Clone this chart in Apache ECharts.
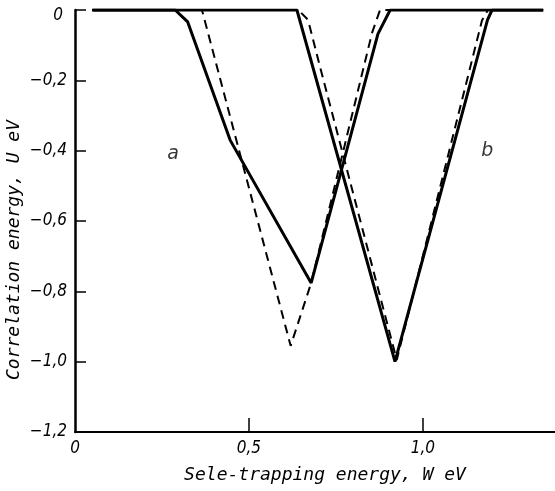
<!DOCTYPE html>
<html>
<head>
<meta charset="utf-8">
<script src="https://cdn.jsdelivr.net/npm/echarts@6/dist/echarts.min.js"></script>
<style>
  html, body { margin: 0; padding: 0; background: #fff; }
  #chart { width: 555px; height: 491px; }
</style>
</head>
<body>
<div id="chart"></div>
<script>
  // W (eV), U (eV)
  const solidA = [[0.05, 0], [0.288, 0], [0.324, -0.034], [0.446, -0.37], [0.679, -0.776], [0.871, -0.068], [0.906, 0], [1.346, 0]]
  const solidB = [[0.05, 0], [0.638, 0], [0.92, -1.0], [1.186, -0.028], [1.199, 0], [1.346, 0]]
  const dashedA = [[0.05, 0], [0.365, 0], [0.62, -0.955], [0.679, -0.776], [0.854, -0.065], [0.877, 0], [1.346, 0]]
  const dashedB = [[0.05, 0], [0.642, 0], [0.67, -0.028], [0.704, -0.16], [0.925, -0.995], [1.17, -0.03], [1.187, 0], [1.346, 0]]
  const curveLabels = [[0.282, -0.41, 'a'], [1.185, -0.4, 'b']]
  const xTicks = [0.5, 1.0]
  const xLabels = [0, 0.5, 1.0]

  const tickFont = {
    color: '#000',
    fontSize: 17,
    fontStyle: 'italic',
    fontFamily: "'Liberation Sans Narrow', 'DejaVu Sans Condensed', sans-serif"
  }
  const titleFont = {
    color: '#000',
    fontSize: 18,
    fontStyle: 'italic',
    fontFamily: "'DejaVu Sans Mono', monospace"
  }
  // 0.5 -> 0,5 ; -0.2 -> −0,2
  const fmt = v => {
    const r = Math.round(v * 10) / 10
    if (r === 0) return '0'
    return (r < 0 ? '\u2212' : '') + Math.abs(r).toFixed(1).replace('.', ',')
  }

  const line = (data, dashed) => ({
    type: 'line',
    data: data,
    symbol: 'none',
    lineStyle: {
      color: '#000',
      width: dashed ? 2 : 3,
      type: dashed ? [9, 6] : 'solid'
    },
    z: dashed ? 2 : 3
  })

  const chart = echarts.init(document.getElementById('chart'))
  chart.setOption({
    animation: false,
    backgroundColor: '#fff',
    grid: { left: 75, right: 0, top: 10, bottom: 59, containLabel: false, outerBoundsMode: 'none' },
    xAxis: {
      type: 'value',
      min: 0,
      max: 1.38,
      name: 'Sele-trapping energy, W eV',
      nameLocation: 'middle',
      nameGap: 34,
      nameTextStyle: Object.assign({ padding: [0, 0, 0, 20] }, titleFont),
      axisLine: { onZero: false, lineStyle: { color: '#000', width: 2 } },
      axisTick: { inside: true, length: 14, customValues: xTicks, lineStyle: { color: '#000', width: 1.5 } },
      axisLabel: Object.assign({ customValues: xLabels, formatter: fmt, margin: 8 }, tickFont),
      splitLine: { show: false }
    },
    yAxis: {
      type: 'value',
      min: -1.2,
      max: 0,
      interval: 0.2,
      name: 'Correlation energy, U eV',
      nameLocation: 'middle',
      nameRotate: 90,
      nameGap: 52,
      nameMoveOverlap: false,
      nameTextStyle: Object.assign({ padding: [0, 58, 0, 0] }, titleFont),
      axisLine: { onZero: false, lineStyle: { color: '#000', width: 2.5 } },
      axisTick: { inside: true, length: 11, lineStyle: { color: '#000', width: 1.5 } },
      axisLabel: Object.assign({
        margin: 8,
        // the top label sits a little below its tick in the original
        formatter: v => (Math.abs(v) < 1e-9 ? '{top|0}' : fmt(v)),
        rich: { top: Object.assign({ padding: [12, 4, 0, 0] }, tickFont) }
      }, tickFont),
      splitLine: { show: false }
    },
    series: [
      line(dashedA, true),
      line(dashedB, true),
      line(solidA, false),
      line(solidB, false),
      {
        type: 'scatter',
        symbolSize: 0,
        data: curveLabels,
        label: {
          show: true,
          position: 'inside',
          formatter: p => p.data[2],
          color: '#000',
          fontSize: 19,
          fontStyle: 'italic',
          fontFamily: "'DejaVu Sans', sans-serif"
        }
      }
    ]
  })
</script>
</body>
</html>
